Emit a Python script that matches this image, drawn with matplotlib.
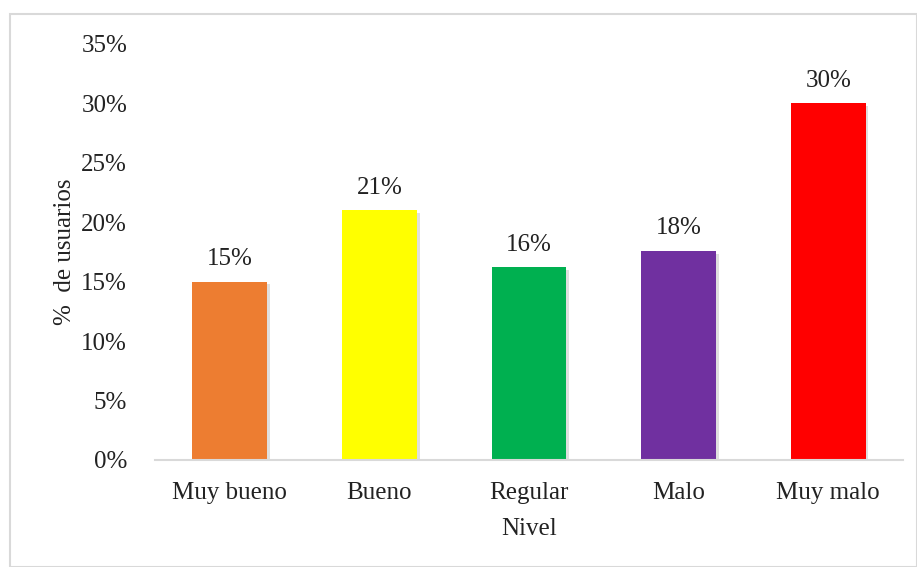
import matplotlib.pyplot as plt
import matplotlib.patheffects as pe
from matplotlib.patches import Rectangle
from matplotlib.ticker import PercentFormatter

plt.rcParams['font.family'] = ['Liberation Serif', 'DejaVu Serif']

categories = ['Muy bueno', 'Bueno', 'Regular', 'Malo', 'Muy malo']
values = [15.0, 21.0, 16.2, 17.6, 30.0]
labels = ['15%', '21%', '16%', '18%', '30%']
colors = ['#ED7D31', '#FFFF00', '#00B050', '#7030A0', '#FF0000']

fig = plt.figure(figsize=(9.17, 5.67), dpi=100)
ax = fig.add_axes([155 / 917, 1 - 460 / 567, 748 / 917, 416 / 567])

# light frame around the chart area
fig.patches.append(Rectangle((10 / 917, 0), 1 - 10 / 917, 1 - 14 / 567,
                             transform=fig.transFigure, fill=False,
                             edgecolor='#d9d9d9', linewidth=1.5))

x = range(len(categories))
bars = ax.bar(x, values, width=0.5, color=colors, zorder=2)
for b in bars:
    b.set_path_effects([pe.SimplePatchShadow(offset=(2, -2), alpha=0.25, shadow_rgbFace='gray'),
                        pe.Normal()])

for xi, v, lab in zip(x, values, labels):
    ax.text(xi, v + 1.0, lab, ha='center', va='bottom', fontsize=18, color='#222222')

ax.set_xlim(-0.5, len(categories) - 0.5)
ax.set_ylim(0, 35)
ax.set_yticks(range(0, 36, 5))
ax.yaxis.set_major_formatter(PercentFormatter(decimals=0))
ax.set_xticks(list(x))
ax.set_xticklabels(categories)
ax.tick_params(axis='both', length=0, labelsize=18, colors='#222222')
ax.tick_params(axis='x', pad=16)
ax.tick_params(axis='y', pad=20)

for s in ['top', 'right', 'left']:
    ax.spines[s].set_visible(False)
ax.spines['bottom'].set_color('#d9d9d9')
ax.spines['bottom'].set_linewidth(1.5)

ax.set_xlabel('Nivel', fontsize=18, color='#222222', labelpad=10)
ax.set_ylabel('%  de usuarios', fontsize=18, color='#222222', labelpad=4)

fig.savefig('out.png', dpi=100)
